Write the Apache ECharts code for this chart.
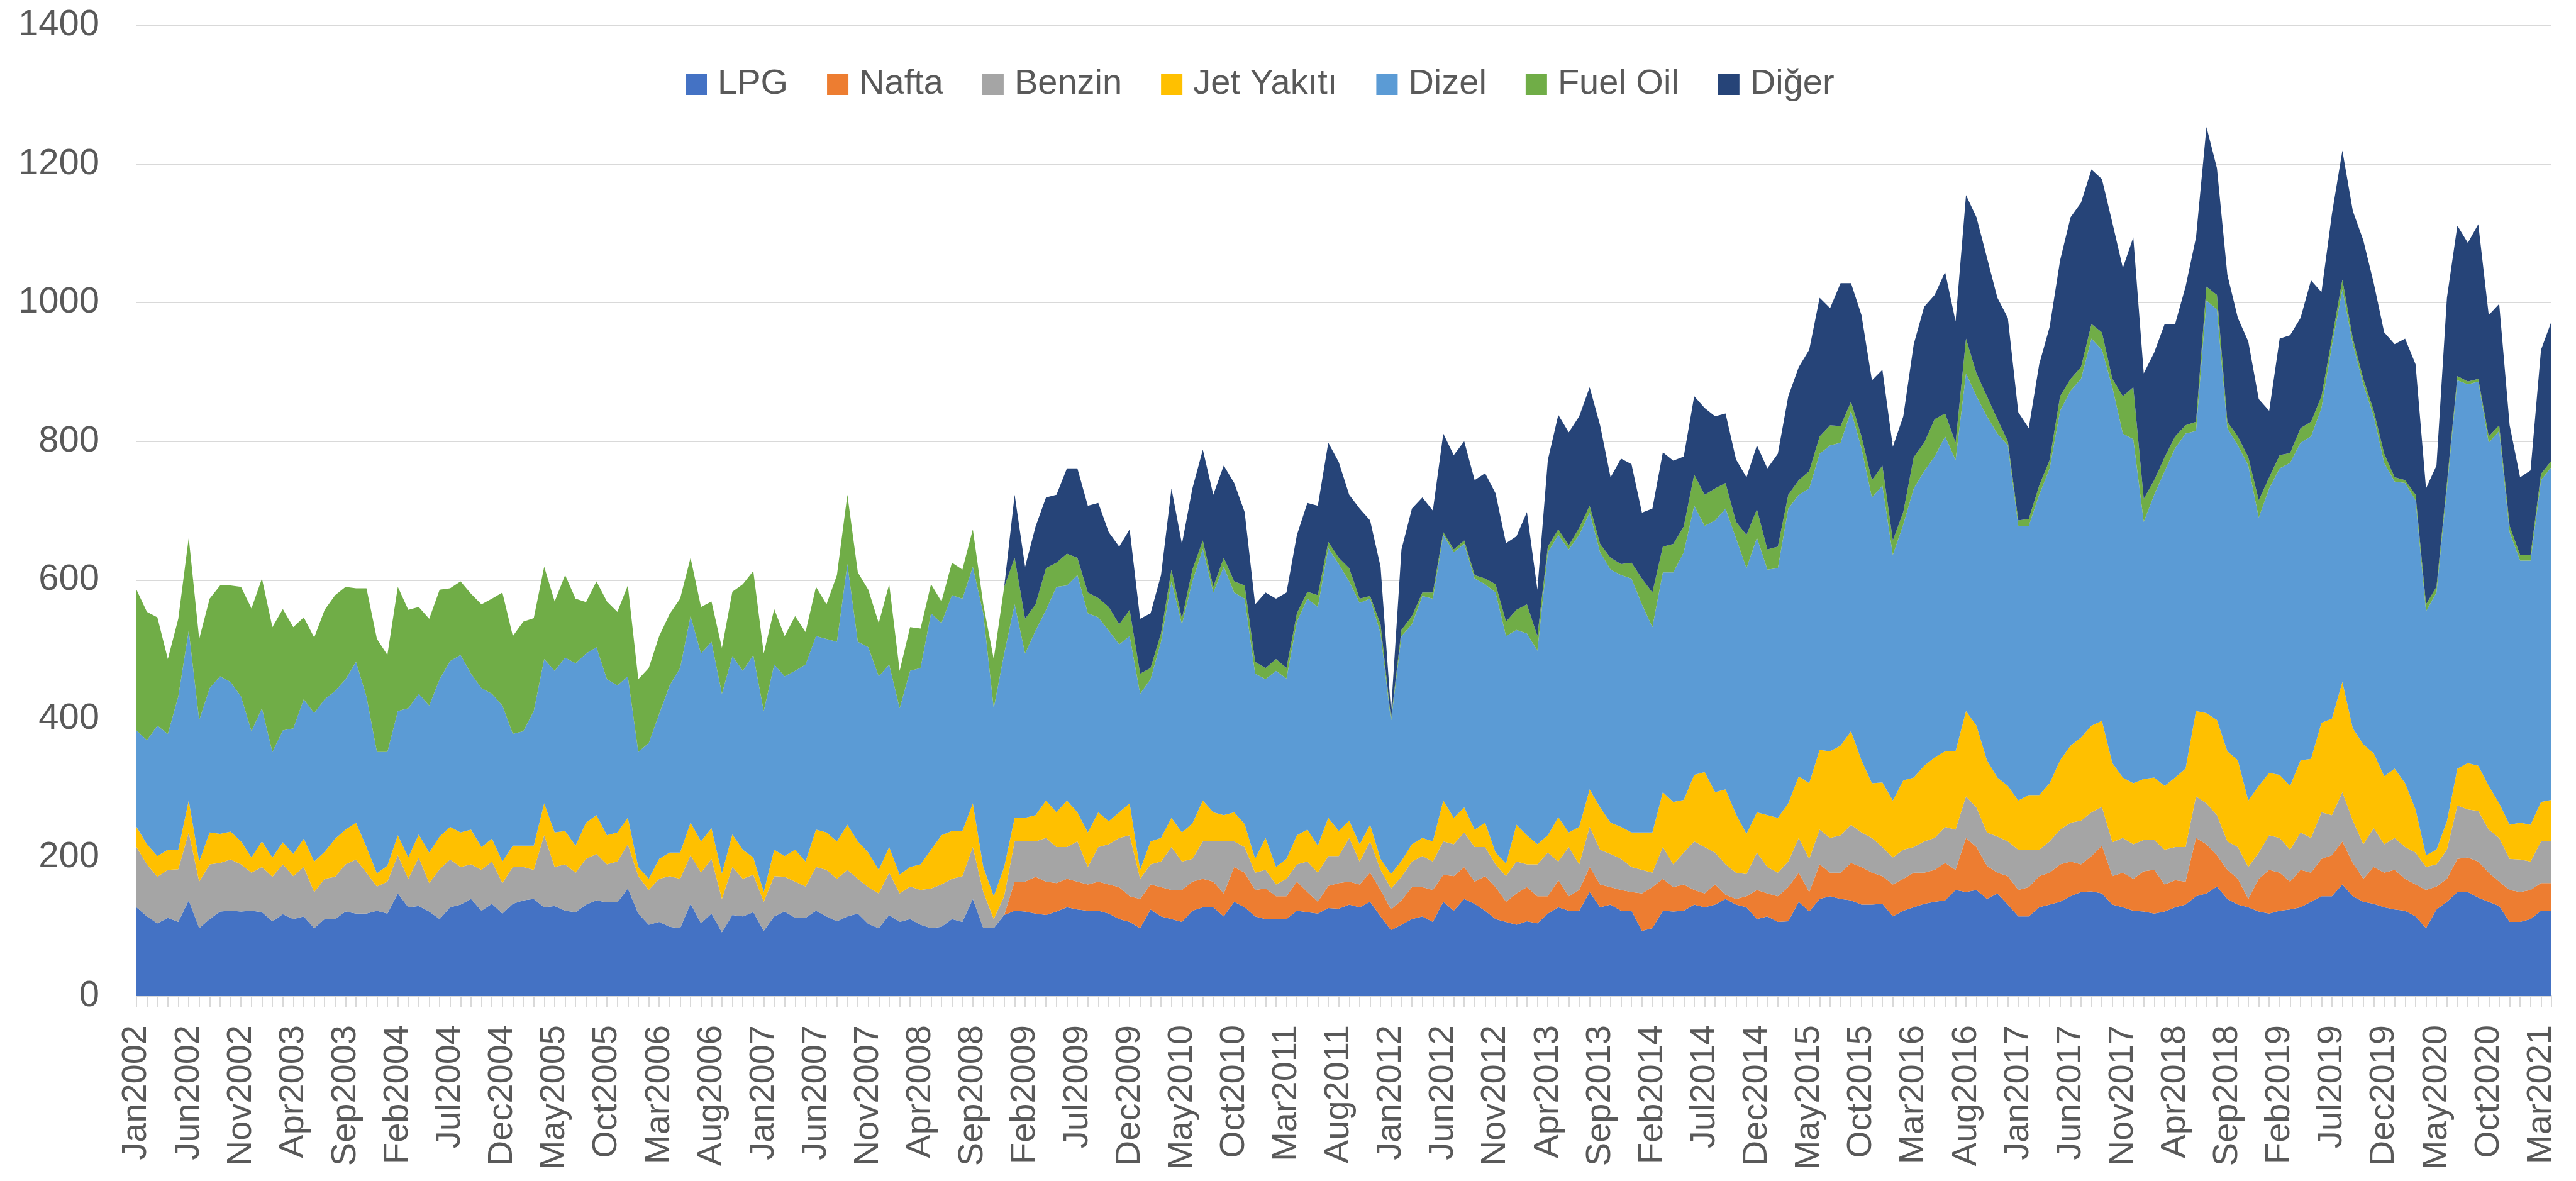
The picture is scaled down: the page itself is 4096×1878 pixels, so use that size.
<!DOCTYPE html>
<html>
<head>
<meta charset="utf-8">
<script src="https://cdn.jsdelivr.net/npm/echarts@6.0.0/dist/echarts.min.js"></script>
<style>
html, body { margin: 0; padding: 0; background: #fff; }
#chart { width: 4096px; height: 1878px; }
</style>
</head>
<body>
<div id="chart"></div>
<script>
// ay isimleri, kategori etiketleri bunlardan kuruluyor (Jan2002 ... Apr2021)
var monthNames = ['Jan','Feb','Mar','Apr','May','Jun','Jul','Aug','Sep','Oct','Nov','Dec'];
var firstYear = 2002;
var monthCount = 232;
var categories = [];
for (var i = 0; i < monthCount; i++) {
    categories.push(monthNames[i % 12] + (firstYear + Math.floor(i / 12)));
}

var yMin = 0, yMax = 1400, yStep = 200;

var lpg = [
    128,115,105,113,107,138,98,111,122,123,
    122,123,121,108,118,111,115,98,111,111,
    122,119,119,123,119,148,128,130,122,111,
    128,132,140,123,133,119,133,138,140,128,
    130,123,121,132,138,135,135,155,119,103,
    107,100,98,133,105,119,92,117,115,121,
    94,115,122,113,113,123,115,108,115,119,
    104,98,117,107,111,103,98,100,111,107,
    140,98,98,117,123,122,119,117,122,128,
    125,123,123,119,111,107,98,125,115,111,
    107,123,128,128,115,136,128,115,111,111,
    111,123,121,119,127,126,132,128,136,115,
    95,103,111,115,107,136,123,140,133,123,
    111,107,103,108,105,119,128,123,123,150,
    128,132,123,123,94,98,123,122,123,132,
    128,132,140,132,128,111,115,107,108,136,
    122,140,144,140,138,132,132,133,115,123,
    128,133,136,138,153,150,153,140,148,132,
    115,115,128,132,136,144,150,151,148,132,
    128,123,122,119,122,128,132,144,148,158,
    140,132,128,122,119,123,125,128,136,144,
    144,161,144,136,133,128,125,123,115,98,
    125,136,150,150,142,136,130,107,107,111,
    123,123
];

var nafta = [
    0,0,0,0,0,0,0,0,0,0,
    0,0,0,0,0,0,0,0,0,0,
    0,0,0,0,0,0,0,0,0,0,
    0,0,0,0,0,0,0,0,0,0,
    0,0,0,0,0,0,0,0,0,0,
    0,0,0,0,0,0,0,0,0,0,
    0,0,0,0,0,0,0,0,0,0,
    0,0,0,0,0,0,0,0,0,0,
    0,0,0,0,42,43,53,48,41,41,
    40,38,42,42,46,37,42,36,42,42,
    46,42,41,37,33,50,50,38,44,33,
    33,42,29,17,32,37,33,33,42,38,
    30,35,46,42,46,39,50,46,32,50,
    46,29,45,49,39,25,39,21,30,36,
    33,25,30,27,54,59,46,35,38,21,
    20,29,6,8,16,42,33,37,49,42,
    28,50,34,38,54,54,46,40,46,46,
    50,45,46,54,29,78,62,48,30,41,
    38,42,45,46,54,50,40,51,69,41,
    50,46,58,63,39,39,33,84,71,45,
    42,37,12,47,63,55,40,54,42,54,
    59,62,48,33,53,50,57,46,46,55,
    33,33,48,50,52,42,35,46,43,42,
    40,40
];

var benzin = [
    87,75,67,69,76,98,67,79,70,74,
    68,55,65,64,72,62,71,52,58,61,
    68,78,59,35,46,55,41,70,41,72,
    69,54,50,59,61,44,53,48,42,104,
    56,67,57,66,67,55,59,64,54,50,
    62,73,71,70,73,79,48,69,54,54,
    42,58,50,52,45,63,67,61,67,50,
    53,50,61,41,47,50,57,61,58,66,
    75,52,13,27,58,58,51,63,52,46,
    58,25,50,58,71,88,29,29,37,62,
    41,33,54,58,75,37,37,25,27,17,
    25,25,44,42,43,39,63,33,45,29,
    30,34,37,45,41,48,46,50,50,42,
    33,37,46,33,46,63,27,71,37,58,
    50,48,45,36,34,21,46,33,46,70,
    67,46,44,38,32,54,38,34,37,50,
    48,50,50,54,55,50,50,42,39,42,
    37,45,46,52,58,60,57,48,52,50,
    58,54,38,45,50,56,63,63,56,49,
    50,50,45,43,50,48,50,60,59,58,
    41,46,46,38,50,50,46,54,50,67,
    58,71,61,50,56,41,46,46,46,33,
    32,42,77,69,73,62,63,45,47,41,
    60,60
];

var jetYakiti = [
    29,29,30,29,28,46,29,46,42,40,
    33,22,37,28,32,32,41,44,39,55,
    50,53,37,19,23,29,31,33,44,47,
    47,50,50,33,33,31,31,31,35,46,
    50,48,39,52,56,42,42,38,13,16,
    29,34,38,47,45,44,37,47,42,25,
    14,38,30,46,36,54,54,54,65,54,
    50,34,37,27,28,37,56,71,69,65,
    63,36,33,42,34,34,38,54,50,67,
    42,50,50,33,37,46,13,33,34,42,
    42,51,59,42,38,42,33,20,46,25,
    29,42,46,39,55,36,25,25,24,16,
    21,23,25,26,29,59,38,36,25,35,
    17,18,53,42,29,25,64,21,54,54,
    61,45,46,50,54,58,79,90,76,96,
    108,87,108,84,58,58,75,79,84,89,
    109,115,125,129,135,104,79,93,82,100,
    100,109,116,109,113,123,118,104,85,80,
    71,79,79,84,100,111,120,125,124,114,
    87,88,88,90,92,100,113,123,130,137,
    130,125,96,96,90,91,92,104,114,129,
    139,159,133,144,108,98,100,92,62,17,
    21,41,53,67,65,63,50,49,53,53,
    57,60
];

var dizel = [
    139,150,188,167,221,245,204,208,227,216,
    209,182,192,152,161,181,201,214,220,213,
    217,232,217,175,164,179,215,203,212,227,
    239,256,225,229,209,225,161,165,194,208,
    233,250,263,244,242,225,212,204,166,196,
    209,241,266,298,271,269,259,257,258,292,
    261,267,259,258,284,279,279,288,376,288,
    296,279,263,240,283,283,341,306,340,335,
    341,366,271,308,308,237,266,275,325,310,
    342,316,281,275,242,241,254,234,283,341,
    300,349,363,317,358,317,325,267,229,283,
    260,308,333,344,389,385,345,348,326,325,
    220,324,317,349,350,383,383,380,362,344,
    375,328,281,291,279,408,407,408,421,399,
    368,365,363,366,329,296,317,331,357,388,
    355,392,405,398,383,396,354,360,425,406,
    425,427,441,437,462,450,412,428,354,369,
    417,425,434,454,420,487,475,496,496,491,
    396,388,433,454,504,512,517,558,535,542,
    496,496,371,408,454,475,483,404,595,592,
    466,454,483,387,410,442,466,458,465,454,
    538,566,554,519,486,452,414,433,446,352,
    371,480,560,546,554,495,537,422,378,381,
    464,480
];

var fuelOil = [
    203,185,156,108,112,134,117,129,131,139,
    158,177,187,180,175,146,118,109,129,138,
    133,106,156,163,140,179,142,125,125,129,
    105,106,115,121,137,163,141,158,134,133,
    100,119,93,74,95,112,106,131,105,108,
    112,103,100,84,67,58,66,93,125,121,
    83,80,58,79,47,71,50,96,100,100,
    83,77,116,54,63,57,42,31,47,42,
    54,13,71,96,67,50,38,60,35,46,
    25,30,28,34,29,38,29,16,12,17,
    8,17,12,8,13,16,19,17,16,17,
    15,12,10,17,9,9,19,6,4,13,
    4,9,12,5,9,4,4,5,5,8,
    12,21,29,42,21,8,8,6,10,10,
    12,17,16,23,37,50,37,41,37,45,
    45,46,37,24,48,41,29,31,20,21,
    25,25,29,24,13,17,25,29,21,18,
    45,41,54,33,25,50,33,29,21,6,
    8,10,13,12,21,17,17,21,25,12,
    54,75,33,21,20,17,12,13,20,21,
    9,13,12,25,16,19,14,21,21,17,
    10,14,8,8,8,13,6,4,8,10,
    8,8,6,4,4,9,8,9,8,8,
    9,9
];

var diger = [
    0,0,0,0,0,0,0,0,0,0,
    0,0,0,0,0,0,0,0,0,0,
    0,0,0,0,0,0,0,0,0,0,
    0,0,0,0,0,0,0,0,0,0,
    0,0,0,0,0,0,0,0,0,0,
    0,0,0,0,0,0,0,0,0,0,
    0,0,0,0,0,0,0,0,0,0,
    0,0,0,0,0,0,0,0,0,0,
    0,0,0,0,91,75,112,102,98,123,
    129,125,137,108,112,116,79,79,84,117,
    108,117,131,133,133,142,106,83,109,87,
    109,113,128,129,143,138,106,130,109,83,
    10,116,155,137,118,142,136,143,137,152,
    131,113,106,133,67,125,165,163,161,171,
    171,116,152,142,95,121,136,120,101,113,
    125,104,100,90,83,92,117,134,142,163,
    175,200,169,206,171,175,144,138,135,138,
    163,196,179,204,175,207,225,200,175,178,
    156,131,175,192,196,233,237,223,221,225,
    185,216,181,184,192,162,200,266,230,183,
    212,171,167,146,96,168,170,159,204,150,
    180,186,184,200,184,175,192,204,188,167,
    175,267,217,200,223,175,175,145,112,122,
    179,201
];

var seriesNames = ['LPG', 'Nafta', 'Benzin', 'Jet Yakıtı', 'Dizel', 'Fuel Oil', 'Diğer'];
var seriesColors = ['#4472C4', '#ED7D31', '#A5A5A5', '#FFC000', '#5B9BD5', '#70AD47', '#264478'];
var seriesData = [lpg, nafta, benzin, jetYakiti, dizel, fuelOil, diger];

var textColor = '#595959';
var gridColor = '#D9D9D9';
var fontName = 'Liberation Sans';

var series = [];
for (var s = 0; s < seriesNames.length; s++) {
    series.push({
        name: seriesNames[s],
        type: 'line',
        stack: 'toplam',
        data: seriesData[s],
        symbol: 'none',
        showSymbol: false,
        lineStyle: { width: 0 },
        itemStyle: { color: seriesColors[s] },
        areaStyle: { color: seriesColors[s], opacity: 1 }
    });
}

var chart = echarts.init(document.getElementById('chart'));
chart.setOption({
    animation: false,
    backgroundColor: '#ffffff',
    grid: {
        left: 217,
        right: 39,
        top: 40,
        bottom: 294,
        outerBoundsMode: 'none'
    },
    legend: {
        data: seriesNames,
        left: 1085,
        top: 100,
        icon: 'rect',
        itemWidth: 34,
        itemHeight: 34,
        itemGap: 62,
        textStyle: {
            fontFamily: fontName,
            fontSize: 56,
            lineHeight: 58,
            color: textColor,
            padding: [0, 0, 0, 12]
        }
    },
    xAxis: {
        type: 'category',
        data: categories,
        boundaryGap: false,
        axisLine: { lineStyle: { color: gridColor, width: 2 } },
        axisTick: {
            show: true,
            interval: 0,
            length: 18,
            lineStyle: { color: gridColor, width: 2 }
        },
        axisLabel: {
            interval: 4,
            rotate: 90,
            margin: 46,
            fontFamily: fontName,
            fontSize: 56,
            color: textColor
        },
        splitLine: { show: false }
    },
    yAxis: {
        type: 'value',
        min: yMin,
        max: yMax,
        interval: yStep,
        axisLine: { show: false },
        axisTick: { show: false },
        axisLabel: {
            margin: 59,
            fontFamily: fontName,
            fontSize: 58,
            color: textColor,
            formatter: function (v) { return String(v); }
        },
        splitLine: { lineStyle: { color: gridColor, width: 2 } }
    },
    series: series
});
</script>
</body>
</html>
